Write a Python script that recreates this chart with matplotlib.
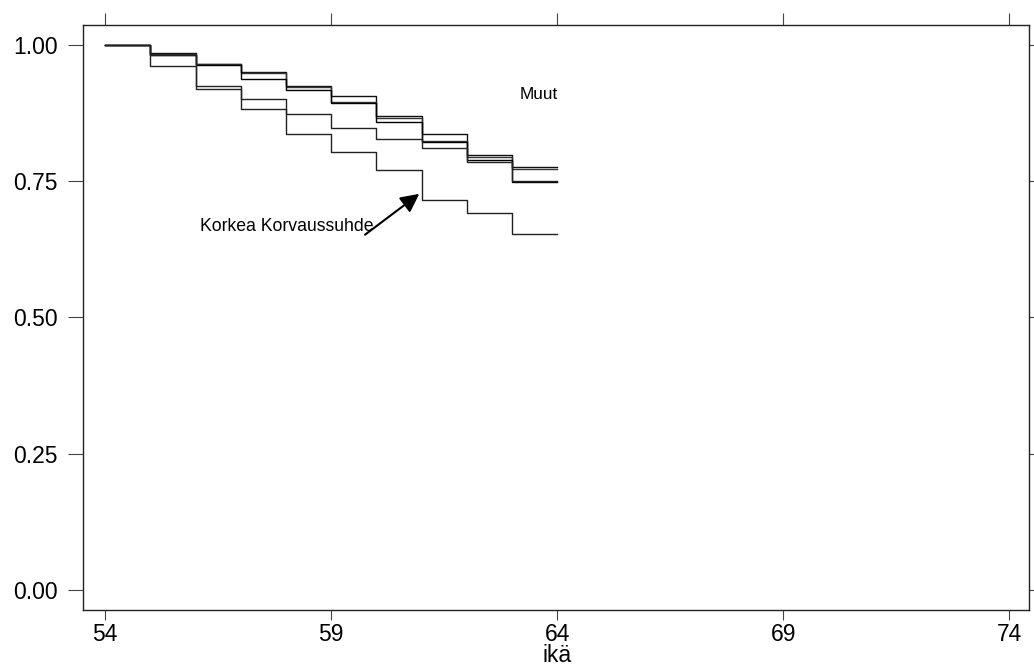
import matplotlib
matplotlib.use('Agg')
import matplotlib.pyplot as plt
import numpy as np

plt.rcParams['font.family'] = ['Liberation Sans', 'DejaVu Sans']

# survival curves, step at each year of age
ages = [54, 55, 56, 57, 58, 59, 60, 61, 62, 63, 64]
korkea = [1.0, 0.961, 0.919, 0.882, 0.836, 0.804, 0.770, 0.716, 0.691, 0.653]
muut_1 = [1.0, 0.985, 0.966, 0.950, 0.925, 0.907, 0.870, 0.836, 0.798, 0.776]
muut_2 = [1.0, 0.983, 0.965, 0.949, 0.924, 0.895, 0.866, 0.824, 0.794, 0.773]
muut_3 = [1.0, 0.981, 0.964, 0.938, 0.917, 0.893, 0.858, 0.822, 0.789, 0.749]
muut_4 = [1.0, 0.981, 0.925, 0.901, 0.873, 0.847, 0.828, 0.811, 0.786, 0.751]

xticks = [54, 59, 64, 69, 74]
yticks = [0.0, 0.25, 0.5, 0.75, 1.0]

fig = plt.figure(figsize=(10.34, 6.66), dpi=100)
ax = fig.add_axes([0.0803, 0.0841, 0.9149, 0.8784])

for s, c in zip([muut_1, muut_2, muut_3, muut_4, korkea],
                ['#111111', '#333333', '#000000', '#222222', '#222222']):
    ax.step(ages, s + [s[-1]], where='post', color=c, lw=1.0)

ax.text(63.18, 0.910, 'Muut', fontsize=12.3, va='center', ha='left')
ax.text(56.1, 0.667, 'Korkea Korvaussuhde', fontsize=12.7, va='center', ha='left')
ax.annotate('', xy=(60.95, 0.727), xytext=(59.75, 0.652),
            arrowprops=dict(arrowstyle='-|>', color='black', lw=1.5,
                            mutation_scale=28, shrinkA=0, shrinkB=0))

ax.set_xlim(53.51, 74.44)
ax.set_ylim(-0.037, 1.037)
ax.set_xticks(xticks)
ax.set_xticklabels([str(t) for t in xticks])
ax.set_yticks(yticks)
ax.set_yticklabels(['%.2f' % t for t in yticks])

ax.tick_params(axis='x', direction='out', length=7.2, width=0.8,
               top=True, labelsize=16.5, pad=2, color='#444444')
ax.tick_params(axis='y', direction='out', length=10.8, width=0.8,
               right=True, labelsize=16.5, pad=7.5, color='#444444')
for sp in ax.spines.values():
    sp.set_linewidth(1.0)
    sp.set_color('#222222')

# longer ticks on top, short on right
for t in ax.xaxis.get_major_ticks():
    t.tick2line.set_markersize(9)
for t in ax.yaxis.get_major_ticks():
    t.tick2line.set_markersize(5)

fig.text(557 / 1034, 4 / 666, 'ikä', fontsize=16.5, ha='center', va='baseline')

fig.savefig('out.png', dpi=100)
